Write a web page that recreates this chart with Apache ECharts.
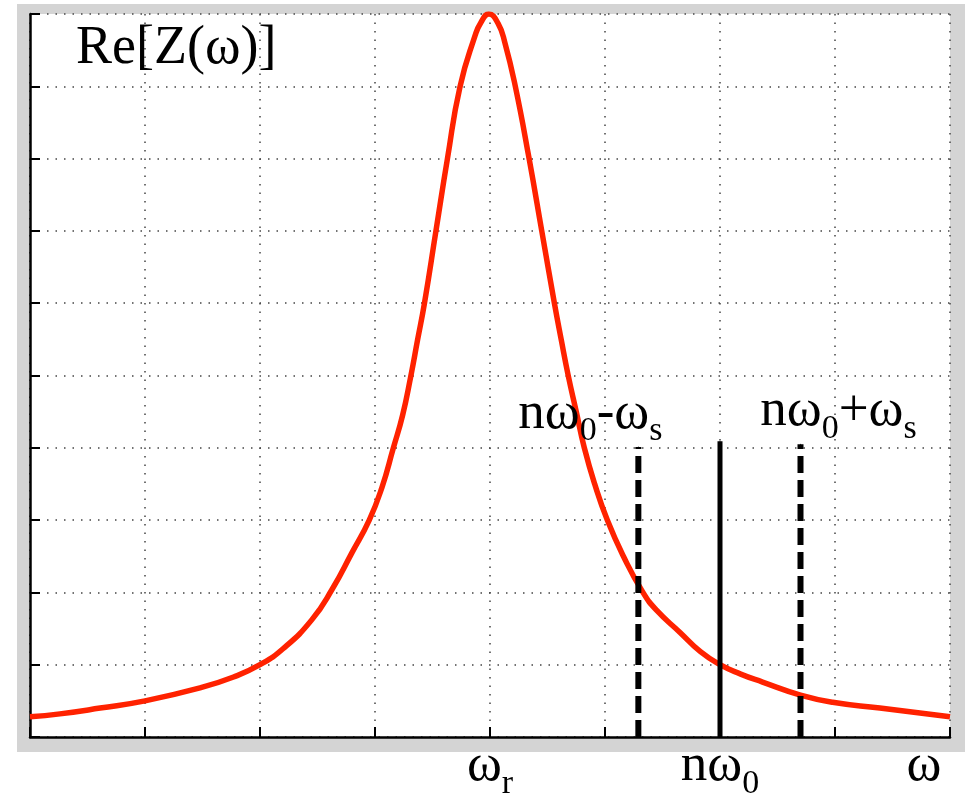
<!DOCTYPE html>
<html>
<head>
<meta charset="utf-8">
<script src="https://cdn.jsdelivr.net/npm/echarts@6/dist/echarts.min.js"></script>
<style>
html,body{margin:0;padding:0;background:#fff;}
#chart{width:975px;height:804px;}
</style>
</head>
<body>
<div id="chart"></div>
<script>
// Re[Z(ω)] curve (x in grid units 0..8, y in grid units 0..10)
const curveX = [0, 0.26, 0.61, 1.0, 1.48, 1.77, 2.0, 2.2, 2.45, 2.63, 2.80, 2.95, 3.06, 3.16, 3.24, 3.31, 3.37, 3.43, 3.53, 3.63, 3.74, 3.87, 3.92, 3.99,
                4.07, 4.13, 4.22, 4.34, 4.45, 4.56, 4.62, 4.68, 4.75, 4.82, 4.91, 5.02, 5.16, 5.33, 5.45, 5.65, 5.83, 6.0, 6.18, 6.37, 6.70, 6.98, 7.39, 8.0];
const curveY = [0.28, 0.32, 0.40, 0.50, 0.68, 0.83, 1.0, 1.22, 1.62, 2.05, 2.55, 3.0, 3.45, 4.0, 4.45, 4.98, 5.49, 6.0, 7.0, 8.0, 9.0, 9.70, 9.88, 10.0,
                9.87, 9.60, 9.0, 8.0, 7.0, 6.0, 5.49, 5.0, 4.5, 4.0, 3.5, 3.0, 2.5, 2.0, 1.75, 1.45, 1.18, 1.0, 0.87, 0.76, 0.58, 0.48, 0.40, 0.28];

// vertical marker lines: nω0-ωs, nω0, nω0+ωs
const markerX   = [5.29, 6.0, 6.70];
const markerTop = [4.01, 4.09, 4.05];
const markerDashed = [true, false, true];
const markerMain = ['nω', '', 'nω'];
const markerSub0 = ['0', '', '0'];
const markerOp   = ['-ω', '', '+ω'];
const markerSub1 = ['s', '', 's'];

// x tick labels
const xLabelValues = [4, 6, 8];
const xLabelMain = ['ω', 'nω', 'ω'];
const xLabelSub  = ['r', '0', ''];

const titleText = 'Re[Z(ω)]';

const serif = 'Liberation Serif';
const richStyles = {
  m: {fontFamily: serif, fontSize: 53, color: '#000', verticalAlign: 'top'},
  s: {fontFamily: serif, fontSize: 34, color: '#000', verticalAlign: 'top', padding: [27, 0, 0, 0]},
  w: {fontFamily: serif, fontSize: 53, color: '#000', verticalAlign: 'top', padding: [0, 52, 0, 0]}
};

const curveData = curveX.map((x, i) => [x, curveY[i]]);

const labelOffsets = [[-48, 2], [0, 0], [38, 2]];

const markerSeries = markerX.map((x, i) => {
  const hasLabel = markerMain[i] !== '';
  return {
    type: 'line',
    data: [
      {value: [x, 0], symbol: 'none'},
      {
        value: [x, markerTop[i]],
        symbol: 'circle',
        symbolSize: 1,
        label: {
          show: hasLabel,
          position: 'top',
          distance: 0,
          offset: labelOffsets[i],
          formatter: '{m|' + markerMain[i] + '}{s|' + markerSub0[i] + '}{m|' + markerOp[i] + '}{s|' + markerSub1[i] + '}',
          rich: richStyles
        }
      }
    ],
    showSymbol: true,
    itemStyle: {color: '#000'},
    lineStyle: {color: '#000', width: markerDashed[i] ? 6 : 5, type: markerDashed[i] ? [17, 7] : 'solid', cap: 'butt'},
    z: 3,
    animation: false,
    silent: true
  };
});

const chart = echarts.init(document.getElementById('chart'), null, {renderer: 'canvas'});
chart.setOption({
  animation: false,
  backgroundColor: '#fff',
  graphic: [{
    type: 'rect',
    left: 17, top: 4,
    shape: {width: 948, height: 748},
    style: {fill: '#d4d4d4'},
    z: -100
  }],
  title: {
    text: titleText,
    left: 76, top: 22, padding: 0,
    textStyle: {fontFamily: serif, fontSize: 54, fontWeight: 'normal', color: '#000'}
  },
  grid: {
    left: 30, right: 25, top: 14, bottom: 67,
    show: true, backgroundColor: '#fff', borderWidth: 0
  },
  xAxis: {
    type: 'value', min: 0, max: 8, interval: 1,
    axisLine: {show: true, onZero: false, lineStyle: {color: '#000', width: 2.5}},
    axisTick: {show: true, inside: true, length: 10, lineStyle: {color: '#000', width: 2}},
    splitLine: {show: true, lineStyle: {color: '#444', width: 1.5, type: [1.5, 7]}},
    axisLabel: {
      show: true, margin: 3,
      formatter: function (v) {
        const k = xLabelValues.indexOf(v);
        if (k < 0) return '';
        if (xLabelSub[k] === '') return '{w|' + xLabelMain[k] + '}';
        return '{m|' + xLabelMain[k] + '}{s|' + xLabelSub[k] + '}';
      },
      rich: richStyles
    }
  },
  yAxis: {
    type: 'value', min: 0, max: 10, interval: 1,
    axisLine: {show: true, onZero: false, lineStyle: {color: '#000', width: 2.5}},
    axisTick: {show: true, inside: true, length: 10, lineStyle: {color: '#000', width: 2}},
    splitLine: {show: true, lineStyle: {color: '#444', width: 1.5, type: [1.5, 7]}},
    axisLabel: {show: false}
  },
  series: [{
    type: 'line',
    data: curveData,
    showSymbol: false,
    smooth: 0.5,
    lineStyle: {color: '#ff2200', width: 5.5},
    z: 2,
    silent: true
  }].concat(markerSeries)
});
</script>
</body>
</html>
